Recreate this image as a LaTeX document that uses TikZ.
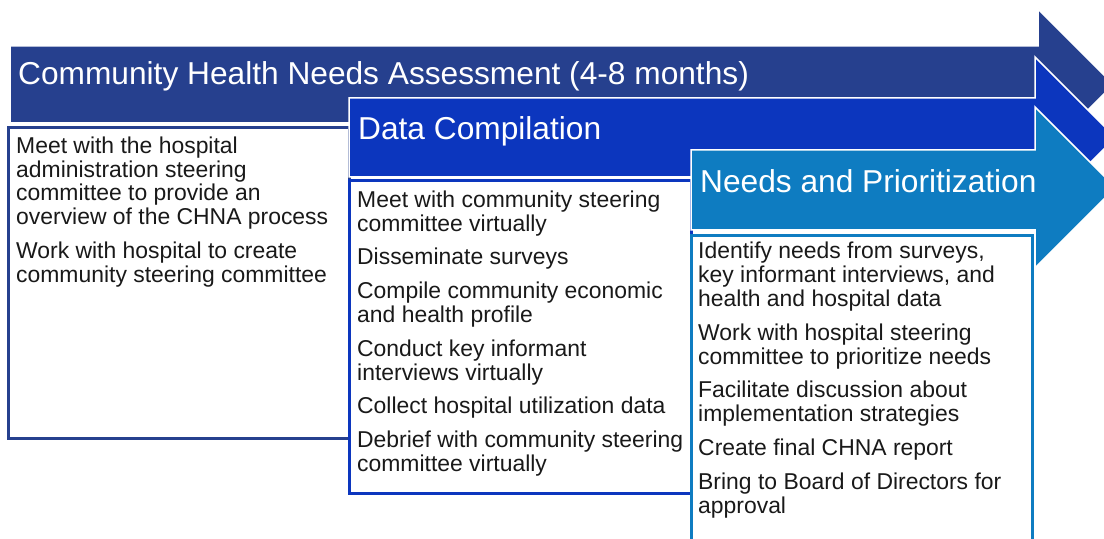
\documentclass[tikz,border=0pt]{standalone}
\usepackage{fontspec}
\setmainfont{Liberation Sans}
\definecolor{navyA}{RGB}{38,64,142}
\definecolor{blueB}{RGB}{12,54,190}
\definecolor{tealC}{RGB}{14,124,193}
\begin{document}
\begin{tikzpicture}[x=1bp,y=-1bp,
  arrowshape/.style={draw=white,line width=1.5bp,line join=miter},
  listbox/.style={draw=#1,fill=white,line width=3bp},
  titletext/.style={anchor=base west,inner sep=0pt,text=white,font=\fontsize{31.8}{36}\selectfont},
  listtext/.style={anchor=north west,inner sep=0pt,align=left,text=black!90,font=\fontsize{23}{23.9}\selectfont}]
\useasboundingbox (0,0) rectangle (1104,539);
\begin{scope}
\clip (0,0) rectangle (1104,539);
% arrow 1
\path[arrowshape,fill=navyA] (10,46) -- (1038,46) -- (1038,9) -- (1113.5,84.5) -- (1038,160) -- (1038,123) -- (10,123) -- cycle;
\node[titletext] (t1) at (18,85) {Community Health Needs Assessment (4-8 months)};
\path[listbox=navyA] (8,127.5) rectangle (349,438);
\node[listtext] (l1) at (16,136.5) {Meet with the hospital\\administration steering\\committee to provide an\\overview of the CHNA process\\[10bp]Work with hospital to create\\community steering committee};
% arrow 2
\path[arrowshape,fill=blueB] (349,98) -- (1035,98) -- (1035,57) -- (1115.5,137.5) -- (1035,218) -- (1035,177) -- (349,177) -- cycle;
\node[titletext] (t2) at (358,140) {Data Compilation};
\path[listbox=blueB] (349,181) rectangle (691,493);
\node[listtext] (l2) at (357,190.5) {Meet with community steering\\committee virtually\\[10bp]Disseminate surveys\\[10bp]Compile community economic\\and health profile\\[10bp]Conduct key informant\\interviews virtually\\[10bp]Collect hospital utilization data\\[10bp]Debrief with community steering\\committee virtually};
% arrow 3
\path[arrowshape,fill=tealC] (691,150) -- (1035,150) -- (1035,107) -- (1115.5,187.5) -- (1035,268) -- (1035,230) -- (691,230) -- cycle;
\node[titletext] (t3) at (700,193) {Needs and Prioritization};
\path[listbox=tealC] (691,236) rectangle (1032,570);
\node[listtext] (l3) at (698,242) {Identify needs from surveys,\\key informant interviews, and\\health and hospital data\\[10bp]Work with hospital steering\\committee to prioritize needs\\[10bp]Facilitate discussion about\\implementation strategies\\[10bp]Create final CHNA report\\[10bp]Bring to Board of Directors for\\approval};
\end{scope}
\end{tikzpicture}
\end{document}
